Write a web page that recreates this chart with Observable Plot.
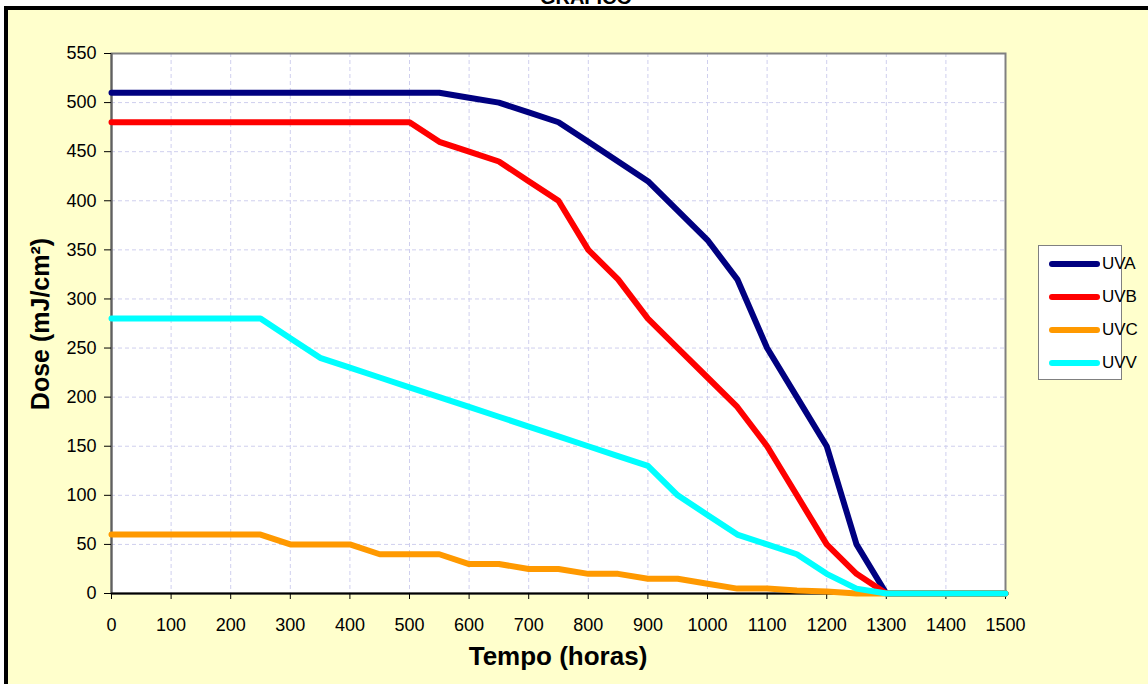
<!DOCTYPE html>
<html>
<head>
<meta charset="utf-8">
<script src="https://cdn.jsdelivr.net/npm/d3@7"></script>
<script src="https://cdn.jsdelivr.net/npm/@observablehq/plot@0.6"></script>
<style>
  html, body { margin: 0; padding: 0; background: #ffffff; width: 1148px; height: 684px; overflow: hidden; font-family: "Liberation Sans", Arial, sans-serif; }
  #bg { position: absolute; left: 4px; top: 6px; width: 1144px; height: 678px; background: #FFFFCC; border-left: 4px solid #000; border-top: 4px solid #000; box-sizing: border-box; }
  #title { position: absolute; left: 486px; width: 200px; top: -13px; text-align: center; font-weight: bold; font-size: 20px; line-height: 20px; color: #000; }
  #chart { position: absolute; left: 0; top: 0; }
  .axt { position: absolute; font-weight: bold; font-size: 25px; color: #000; white-space: nowrap; }
  #xt { left: 558px; top: 656px; transform: translate(-50%, -50%); font-size: 26px; }
  #yt { left: 40px; top: 324px; transform: translate(-50%, -50%) rotate(-90deg); }
  #legend { position: absolute; left: 1038px; top: 245px; width: 84px; height: 135px; background: #fff; border: 1px solid #808080; box-sizing: border-box; }
  .lg { position: absolute; left: 0; height: 20px; width: 84px; }
  .lg .sw { position: absolute; left: 10px; top: 7px; width: 51px; height: 6px; border-radius: 3px; }
  .lg .tx { position: absolute; left: 63px; top: 0; font-size: 17px; line-height: 20px; color: #000; }
</style>
</head>
<body>
<div id="bg"></div>
<div id="title">GRÁFICO</div>
<div id="chart"></div>
<div class="axt" id="xt">Tempo (horas)</div>
<div class="axt" id="yt">Dose (mJ/cm²)</div>
<div id="legend"></div>
<script>
const hours = [0,50,100,150,200,250,300,350,400,450,500,550,600,650,700,750,800,850,900,950,1000,1050,1100,1150,1200,1250,1300,1350,1400,1450,1500];
const uva = [510,510,510,510,510,510,510,510,510,510,510,510,505,500,490,480,460,440,420,390,360,320,250,200,150,50,0,0,0,0,0];
const uvb = [480,480,480,480,480,480,480,480,480,480,480,460,450,440,420,400,350,320,280,250,220,190,150,100,50,20,0,0,0,0,0];
const uvc = [60,60,60,60,60,60,50,50,50,40,40,40,30,30,25,25,20,20,15,15,10,5,5,3,2,0,0,0,0,0,0];
const uvv = [280,280,280,280,280,280,260,240,230,220,210,200,190,180,170,160,150,140,130,100,80,60,50,40,20,5,0,0,0,0,0];
const seriesNames = ["UVA","UVB","UVC","UVV"];
const seriesColors = ["#000080","#FF0000","#FF9900","#00FFFF"];
const xTicks = [0,100,200,300,400,500,600,700,800,900,1000,1100,1200,1300,1400,1500];
const yTicks = [0,50,100,150,200,250,300,350,400,450,500,550];

const seriesValues = [uva, uvb, uvc, uvv];
const data = [];
seriesNames.forEach((s, i) => hours.forEach((h, j) => data.push({series: s, hours: h, dose: seriesValues[i][j]})));

const chart = Plot.plot({
  width: 1148,
  height: 684,
  marginLeft: 111,
  marginRight: 143,
  marginTop: 53,
  marginBottom: 91,
  style: { background: "transparent", fontFamily: "'Liberation Sans', Arial, sans-serif", color: "#000" },
  x: { domain: [0, 1500] },
  y: { domain: [0, 550] },
  color: { domain: seriesNames, range: seriesColors },
  marks: [
    Plot.frame({ fill: "#ffffff" }),
    Plot.gridX(xTicks, { stroke: "#cfcfee", strokeOpacity: 1, strokeDasharray: "4,3", strokeWidth: 1 }),
    Plot.gridY(yTicks, { stroke: "#cfcfee", strokeOpacity: 1, strokeDasharray: "4,3", strokeWidth: 1 }),
    Plot.frame({ stroke: "#808080", strokeWidth: 2 }),
    Plot.ruleX([0], { stroke: "#606060", strokeWidth: 2 }),
    Plot.ruleY([0], { stroke: "#000", strokeWidth: 2 }),
    Plot.axisX({ ticks: xTicks, tickSize: 6, tickPadding: 19, fontSize: 18, label: null, stroke: "#000", tickFormat: d => String(d) }),
    Plot.axisY({ ticks: yTicks, tickSize: 7, tickPadding: 8, fontSize: 18, label: null, stroke: "#000", tickFormat: d => String(d) }),
    Plot.line(data, { x: "hours", y: "dose", z: "series", stroke: "series", strokeWidth: 6, strokeLinejoin: "round", strokeLinecap: "round" })
  ]
});
document.getElementById("chart").appendChild(chart);

const legend = document.getElementById("legend");
const rowCenters = [18, 51, 84, 117];
seriesNames.forEach((s, i) => {
  const row = document.createElement("div");
  row.className = "lg";
  row.style.top = (rowCenters[i] - 10) + "px";
  row.innerHTML = `<div class="sw" style="background:${seriesColors[i]}"></div><div class="tx">${s}</div>`;
  legend.appendChild(row);
});
</script>
</body>
</html>
